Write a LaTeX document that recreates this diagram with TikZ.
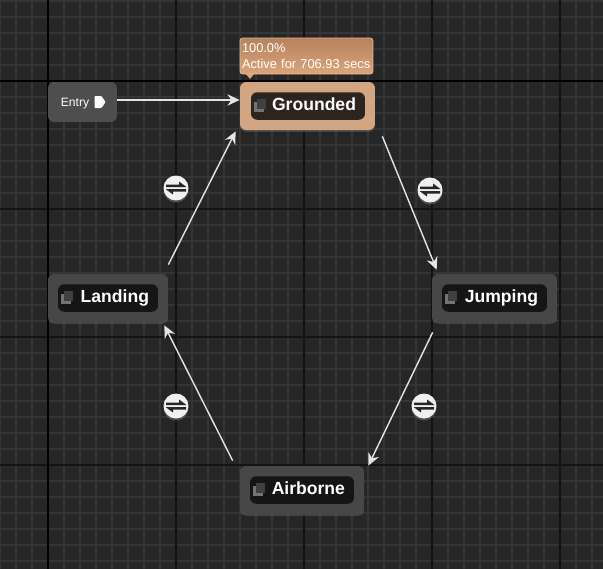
\documentclass[tikz,border=0pt]{standalone}
\usepackage{fontspec}
\setmainfont{Liberation Sans}
\usepackage{tikz}
\usetikzlibrary{arrows.meta,calc,positioning,shadows}
\definecolor{GraphBack}{HTML}{262626}
\definecolor{GraphMinor}{HTML}{353535}
\definecolor{GraphMajor}{HTML}{131313}
\definecolor{StateGrey}{HTML}{474747}
\definecolor{EntryGrey}{HTML}{4E4E4E}
\definecolor{PillDark}{HTML}{151515}
\definecolor{ActiveTan}{HTML}{D3A683}
\definecolor{ActivePill}{HTML}{2C251F}
\definecolor{TipTop}{HTML}{B5835E}
\definecolor{TipBottom}{HTML}{DBA47B}
\definecolor{TipEdge}{HTML}{E8B88F}
\definecolor{LineWhite}{HTML}{E4E4E4}

\begin{document}
\begin{tikzpicture}[
    x=0.02cm,y=-0.02cm,
    statebox/.style={rounded corners=3.5pt,inner sep=0pt,minimum height=0.96cm,fill=StateGrey,drop shadow={shadow xshift=0pt,shadow yshift=-1pt,opacity=.35}},
    pill/.style={rounded corners=3.5pt,fill=PillDark,text=white,inner xsep=0.18cm,inner ysep=0pt,minimum height=0.55cm,text width=#1,text height=8pt,text depth=3pt,align=right,font=\bfseries\fontsize{10}{12}\selectfont},
    glyph/.style={fill=#1,minimum size=0.19cm,inner sep=0pt},
    entrybox/.style={rounded corners=3.5pt,fill=EntryGrey,text=white,inner sep=0pt,minimum width=1.38cm,minimum height=0.8cm,text height=6pt,text depth=1pt,font=\fontsize{6.9}{9}\selectfont},
    tipbox/.style={rounded corners=1.5pt,draw=TipEdge,top color=TipTop,bottom color=TipBottom,text=white,inner xsep=0.04cm,inner ysep=0.02cm,minimum width=2.66cm,minimum height=0.72cm,text width=2.58cm,align=left,font=\fontsize{7.3}{8.8}\selectfont},
    swapnode/.style={circle,fill=white!94!black,minimum size=0.5cm,inner sep=0pt,drop shadow={shadow xshift=0pt,shadow yshift=-1.2pt,opacity=.45}},
    trans/.style={-{Stealth[length=7pt,width=6.5pt]},line width=0.8pt,LineWhite}
  ]
    % grid
    \useasboundingbox (0,0) rectangle (603,569);
    \fill[GraphBack] (0,0) rectangle (603,569);
    \foreach \x in {0,16,...,592} \draw[GraphMinor,line width=1pt] (\x,0) -- (\x,569);
    \foreach \y in {1,17,...,561} \draw[GraphMinor,line width=1pt] (0,\y) -- (603,\y);
    \foreach \x in {176,304,432,560} \draw[GraphMajor,line width=1pt] (\x,0) -- (\x,569);
    \foreach \y in {209,337,465} \draw[GraphMajor,line width=1pt] (0,\y) -- (603,\y);
    \draw[black,line width=1.2pt] (48,0) -- (48,569);
    \draw[black,line width=1.2pt] (0,81) -- (603,81);

    % states
    \node[entrybox,align=left] (Entry) at (82.5,102) {\hspace*{-0.3cm}Entry};
    \fill[white,rounded corners=0.5pt] ($(Entry.center)+(12,-6)$) -- ++(7,0) -- ++(4,6) -- ++(-4,6) -- ++(-7,0) -- cycle;

    \node[statebox,fill=ActiveTan,minimum width=2.7cm] (Grounded) at (307.5,106) {};
    \node[pill=1.92cm,fill=ActivePill] (GroundedPill) at (308,106) {Grounded};
    \node[statebox,minimum width=2.5cm] (Jumping) at (494.5,298) {};
    \node[pill=1.74cm] (JumpingPill) at (494.5,298) {Jumping};
    \node[statebox,minimum width=2.4cm] (Landing) at (108,298) {};
    \node[pill=1.64cm] (LandingPill) at (108,298) {Landing};
    \node[statebox,minimum width=2.48cm] (Airborne) at (302,490) {};
    \node[pill=1.72cm] (AirbornePill) at (302,490) {Airborne};

    % little state glyphs
    \foreach \pillname in {GroundedPill,JumpingPill,LandingPill,AirbornePill} {
      \node[glyph=black!55!white] at ($(\pillname.west)+(8.5,1)$) {};
      \node[glyph=black!75!white] at ($(\pillname.west)+(11,-2)$) {};
    }

    % tooltip
    \fill[TipBottom] (245,73) -- (255,73) -- (250,79) -- cycle;
    \node[tipbox] (Tip) at (306.5,56) {100.0\%\\Active for 706.93 secs};

    % transitions
    \draw[trans] (Entry.east) ++(0,-2) coordinate (EntryOut) -- (EntryOut -| Grounded.west);
    \draw[trans] ([shift={(7,6)}]Grounded.south east) -- ([shift={(5,-4)}]Jumping.north west);
    \draw[trans] ([shift={(1,10)}]Jumping.south west) -- ([shift={(4,0)}]Airborne.north east);
    \draw[trans] ([shift={(-7,-5)}]Airborne.north west) -- ([shift={(-4,3)}]Landing.south east);
    \draw[trans] ([shift={(0,-9)}]Landing.north east) -- ([shift={(-4,1)}]Grounded.south west);

    % swap icons
    \foreach \swapname/\x/\y in {SwapLanding/176/188,SwapJumping/430/190,SwapAirborne/176/406,SwapFalling/424/406} {
      \node[swapnode] (\swapname) at (\x,\y) {};
      \fill[black!85] ([shift={(-10,-3.5)}]\swapname.center) -- ++(13,0) -- ++(0,-3) -- ++(7.5,5.5) -- ++(-20.5,0) -- cycle;
      \fill[black!85] ([shift={(10,3.5)}]\swapname.center) -- ++(-13,0) -- ++(0,3) -- ++(-7.5,-5.5) -- ++(20.5,0) -- cycle;
    }
  \end{tikzpicture}
\end{document}
